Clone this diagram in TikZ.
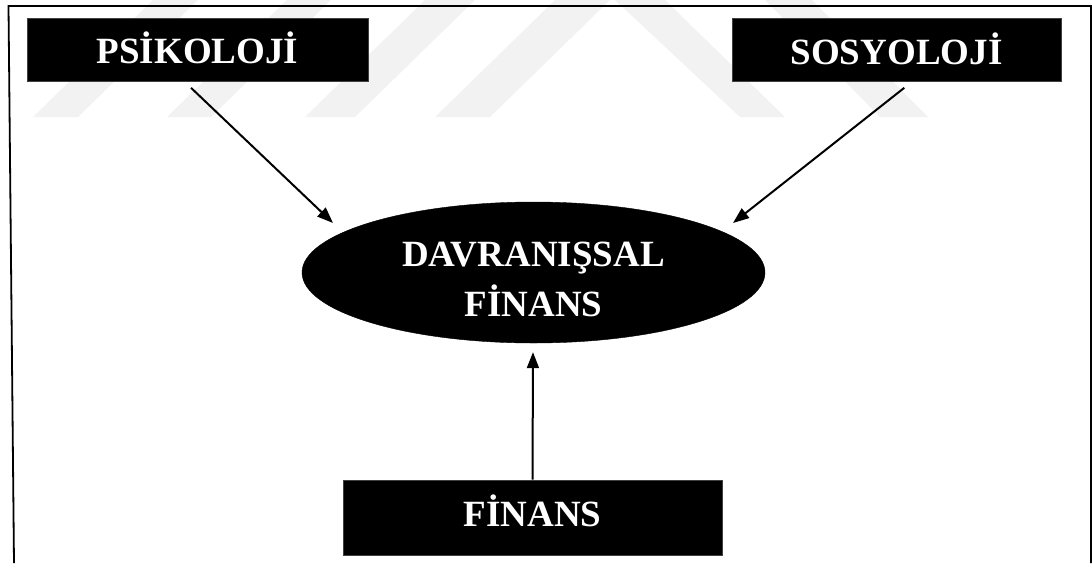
\documentclass[tikz,border=0pt]{standalone}
\usepackage{fontspec}
\setmainfont{Liberation Serif}
\usetikzlibrary{shapes.geometric,arrows.meta,calc}
\tikzset{
  wm/.style={fill=black!5, draw=none},
  frameline/.style={line width=1.8pt, draw=black},
  blackbox/.style={rectangle, fill=black, draw=black!75, line width=0.6pt, inner sep=0pt,
     text=white, font=\bfseries\fontsize{37}{44}\selectfont},
  ell/.style={ellipse, fill=black, draw=black, inner sep=0pt,
     minimum width=463pt, minimum height=141pt},
  elltext/.style={text=white, align=center, inner sep=0pt,
     font=\bfseries\fontsize{37}{50}\selectfont},
  arr/.style={line width=2pt, -{Triangle[length=16pt,width=12pt]}}
}
\begin{document}
\begin{tikzpicture}[x=1pt,y=-1pt]
\useasboundingbox (0,0) rectangle (1092,563);
% watermark stripes
\fill[wm] (33,117) -- (78,117) -- (198,0) -- (153,0) -- cycle;
\fill[wm] (167,117) -- (211,117) -- (331,0) -- (287,0) -- cycle;
\fill[wm] (305,117) -- (355,117) -- (475,0) -- (425,0) -- cycle;
\fill[wm] (435,117) -- (490,117) -- (610,0) -- (555,0) -- cycle;
\fill[wm] (615,0) -- (665,0) -- (785,117) -- (740,117) -- cycle;
\fill[wm] (765,0) -- (812,0) -- (928,117) -- (880,117) -- cycle;
% frame
\draw[frameline] (14,563) -- (8.5,6) -- (1091,6) -- (1091,563);
% nodes
\node[blackbox, minimum width=341pt, text height=45pt, text depth=18pt] (psi) at (197.5,49.5) {PSİKOLOJİ};
\node[blackbox, minimum width=329pt, text height=46pt, text depth=17pt] (sos) at (896.5,49.5) {SOSYOLOJİ};
\node[blackbox, minimum width=379pt, text height=46.5pt, text depth=28.5pt] (fin) at (532.5,517.5) {FİNANS};
\node[ell] (df) at (533.5,272.5) {};
\node[elltext] (dftext) at (533.5,279.8) {DAVRANIŞSAL\\FİNANS};
% connector ends
\coordinate (psiS) at ($(psi.south)+(-6.5,6.5)$);
\coordinate (dfL) at ($(df.center)+(-200.5,-49.5)$);
\coordinate (sosS) at ($(sos.south)+(7.8,6.5)$);
\coordinate (dfR) at ($(df.center)+(199.5,-49.5)$);
\coordinate (dfB) at ($(df.south)+(-0.5,9)$);
% connectors
\draw[arr] (psiS) -- (dfL);
\draw[arr] (sosS) -- (dfR);
\draw[arr] (fin.north) -- (dfB);
\end{tikzpicture}
\end{document}
